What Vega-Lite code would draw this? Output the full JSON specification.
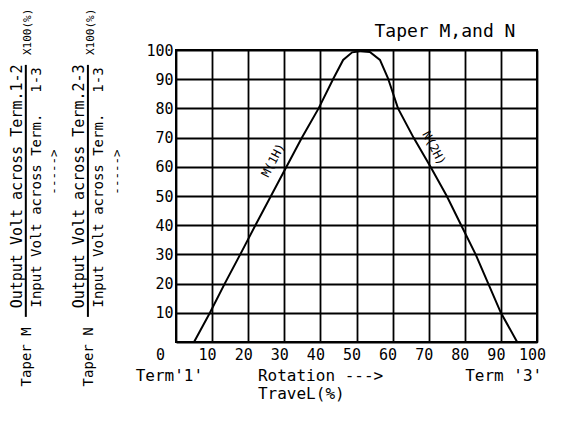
{
  "$schema": "https://vega.github.io/schema/vega-lite/v6.json",
  "width": 361,
  "height": 292,
  "autosize": {"type": "none"},
  "padding": {"left": 176, "top": 50, "right": 29, "bottom": 84},
  "background": "white",
  "config": {
    "view": {"stroke": "black", "strokeWidth": 2},
    "axis": {
      "grid": true, "gridColor": "black", "gridWidth": 1.8, "gridOpacity": 1,
      "ticks": false, "domain": false, "labelColor": "black", "tickCount": 10,
      "labelFont": "DejaVu Sans Mono", "labelFontSize": 15, "labelOverlap": false,
      "labelFlush": false, "labelBound": false, "title": null
    },
    "axisX": {"labelPadding": 5},
    "axisY": {"labelPadding": 3, "labelBaseline": "middle"},
    "text": {"font": "DejaVu Sans Mono", "color": "black"}
  },
  "datasets": {
    "curve": [
      {"taper": "M", "travel": 5, "ratio": 0},
      {"taper": "M", "travel": 9.4, "ratio": 10},
      {"taper": "M", "travel": 13.5, "ratio": 20},
      {"taper": "M", "travel": 17.8, "ratio": 30},
      {"taper": "M", "travel": 22, "ratio": 40},
      {"taper": "M", "travel": 26.3, "ratio": 50},
      {"taper": "M", "travel": 30.6, "ratio": 60},
      {"taper": "M", "travel": 34.9, "ratio": 70},
      {"taper": "M", "travel": 39.5, "ratio": 80},
      {"taper": "M", "travel": 43.5, "ratio": 90},
      {"taper": "M", "travel": 46.3, "ratio": 96.6},
      {"taper": "M", "travel": 48.8, "ratio": 99.2},
      {"taper": "M", "travel": 51, "ratio": 99.6},
      {"taper": "N", "travel": 51, "ratio": 99.6},
      {"taper": "N", "travel": 53.7, "ratio": 99.3},
      {"taper": "N", "travel": 56.5, "ratio": 96.6},
      {"taper": "N", "travel": 58.7, "ratio": 90.4},
      {"taper": "N", "travel": 61.5, "ratio": 80},
      {"taper": "N", "travel": 65.8, "ratio": 70},
      {"taper": "N", "travel": 70.5, "ratio": 60},
      {"taper": "N", "travel": 75, "ratio": 50},
      {"taper": "N", "travel": 79, "ratio": 40},
      {"taper": "N", "travel": 83, "ratio": 30},
      {"taper": "N", "travel": 86.5, "ratio": 20},
      {"taper": "N", "travel": 90, "ratio": 10},
      {"taper": "N", "travel": 94.5, "ratio": 0}
    ]
  },
  "layer": [
    {
      "data": {"name": "curve"},
      "mark": {"type": "line", "color": "black", "strokeWidth": 2},
      "encoding": {
        "x": {"field": "travel", "type": "quantitative",
          "scale": {"domain": [0, 100], "nice": false},
          "axis": {"title": null, "tickCount": 10,
            "labelOffset": {"condition": {"test": "datum.value == 0", "value": -16}, "value": -5}}},
        "y": {"field": "ratio", "type": "quantitative",
          "scale": {"domain": [0, 100], "nice": false},
          "axis": {"title": null, "tickCount": 10,
            "labelExpr": "datum.value == 0 ? '' : datum.label"}},
        "detail": {"field": "taper"}
      }
    },
    {"data": {"values": [{}]}, "mark": {"type": "text", "fontSize": 12, "angle": -62, "align": "center", "baseline": "middle"},
      "encoding": {"x": {"datum": 26.9}, "y": {"datum": 62.3}, "text": {"value": "M(1H)"}}},
    {"data": {"values": [{}]}, "mark": {"type": "text", "fontSize": 12, "angle": 62, "align": "center", "baseline": "middle"},
      "encoding": {"x": {"datum": 71.5}, "y": {"datum": 66.4}, "text": {"value": "N(2H)"}}},
    {"data": {"values": [{}]}, "mark": {"type": "text", "fontSize": 18, "align": "center", "baseline": "middle"},
      "encoding": {"x": {"datum": 74.5}, "y": {"datum": 106.2}, "text": {"value": "Taper M,and N"}}},
    {"data": {"values": [{}]}, "mark": {"type": "text", "fontSize": 16, "align": "right", "baseline": "middle"},
      "encoding": {"x": {"datum": 7.5}, "y": {"datum": -11.6}, "text": {"value": "Term'1'"}}},
    {"data": {"values": [{}]}, "mark": {"type": "text", "fontSize": 16, "align": "left", "baseline": "middle"},
      "encoding": {"x": {"datum": 22.7}, "y": {"datum": -11.6}, "text": {"value": "Rotation --->"}}},
    {"data": {"values": [{}]}, "mark": {"type": "text", "fontSize": 16, "align": "left", "baseline": "middle"},
      "encoding": {"x": {"datum": 22.7}, "y": {"datum": -17.9}, "text": {"value": "TraveL(%)"}}},
    {"data": {"values": [{}]}, "mark": {"type": "text", "fontSize": 16, "align": "left", "baseline": "middle"},
      "encoding": {"x": {"datum": 80.1}, "y": {"datum": -11.6}, "text": {"value": "Term '3'"}}},
    {"data": {"values": [{}]}, "mark": {"type": "text", "fontSize": 15, "angle": -90, "align": "center", "baseline": "middle"},
      "encoding": {"x": {"datum": -44.0}, "y": {"datum": 53.3}, "text": {"value": "Output Volt across Term.1-2"}}},
    {"data": {"values": [{}]}, "mark": {"type": "text", "fontSize": 14, "angle": -90, "align": "center", "baseline": "middle"},
      "encoding": {"x": {"datum": -38.5}, "y": {"datum": 45.0}, "text": {"value": "Input Volt across Term."}}},
    {"data": {"values": [{}]}, "mark": {"type": "text", "fontSize": 14, "angle": -90, "align": "center", "baseline": "middle"},
      "encoding": {"x": {"datum": -38.5}, "y": {"datum": 89.7}, "text": {"value": "1-3"}}},
    {"data": {"values": [{}]}, "mark": {"type": "text", "fontSize": 11, "angle": -90, "align": "center", "baseline": "middle"},
      "encoding": {"x": {"datum": -41.0}, "y": {"datum": 106.2}, "text": {"value": "X100(%)"}}},
    {"data": {"values": [{}]}, "mark": {"type": "text", "fontSize": 12.5, "angle": -90, "align": "center", "baseline": "middle"},
      "encoding": {"x": {"datum": -33.8}, "y": {"datum": 58.2}, "text": {"value": "----->"}}},
    {"data": {"values": [{}]}, "mark": {"type": "text", "fontSize": 14, "angle": -90, "align": "center", "baseline": "middle"},
      "encoding": {"x": {"datum": -41.3}, "y": {"datum": -5.1}, "text": {"value": "Taper M"}}},
    {"data": {"values": [{}]}, "mark": {"type": "rule", "color": "black", "strokeWidth": 2},
      "encoding": {"x": {"datum": -41.6}, "y": {"datum": 94.9}, "y2": {"datum": 8.6}}},
    {"data": {"values": [{}]}, "mark": {"type": "text", "fontSize": 15, "angle": -90, "align": "center", "baseline": "middle"},
      "encoding": {"x": {"datum": -26.9}, "y": {"datum": 53.3}, "text": {"value": "Output Volt across Term.2-3"}}},
    {"data": {"values": [{}]}, "mark": {"type": "text", "fontSize": 14, "angle": -90, "align": "center", "baseline": "middle"},
      "encoding": {"x": {"datum": -21.3}, "y": {"datum": 45.0}, "text": {"value": "Input Volt across Term."}}},
    {"data": {"values": [{}]}, "mark": {"type": "text", "fontSize": 14, "angle": -90, "align": "center", "baseline": "middle"},
      "encoding": {"x": {"datum": -21.3}, "y": {"datum": 89.7}, "text": {"value": "1-3"}}},
    {"data": {"values": [{}]}, "mark": {"type": "text", "fontSize": 11, "angle": -90, "align": "center", "baseline": "middle"},
      "encoding": {"x": {"datum": -23.5}, "y": {"datum": 106.2}, "text": {"value": "X100(%)"}}},
    {"data": {"values": [{}]}, "mark": {"type": "text", "fontSize": 12.5, "angle": -90, "align": "center", "baseline": "middle"},
      "encoding": {"x": {"datum": -16.3}, "y": {"datum": 58.2}, "text": {"value": "----->"}}},
    {"data": {"values": [{}]}, "mark": {"type": "text", "fontSize": 14, "angle": -90, "align": "center", "baseline": "middle"},
      "encoding": {"x": {"datum": -24.1}, "y": {"datum": -5.1}, "text": {"value": "Taper N"}}},
    {"data": {"values": [{}]}, "mark": {"type": "rule", "color": "black", "strokeWidth": 2},
      "encoding": {"x": {"datum": -24.4}, "y": {"datum": 94.9}, "y2": {"datum": 8.6}}}
  ]
}
